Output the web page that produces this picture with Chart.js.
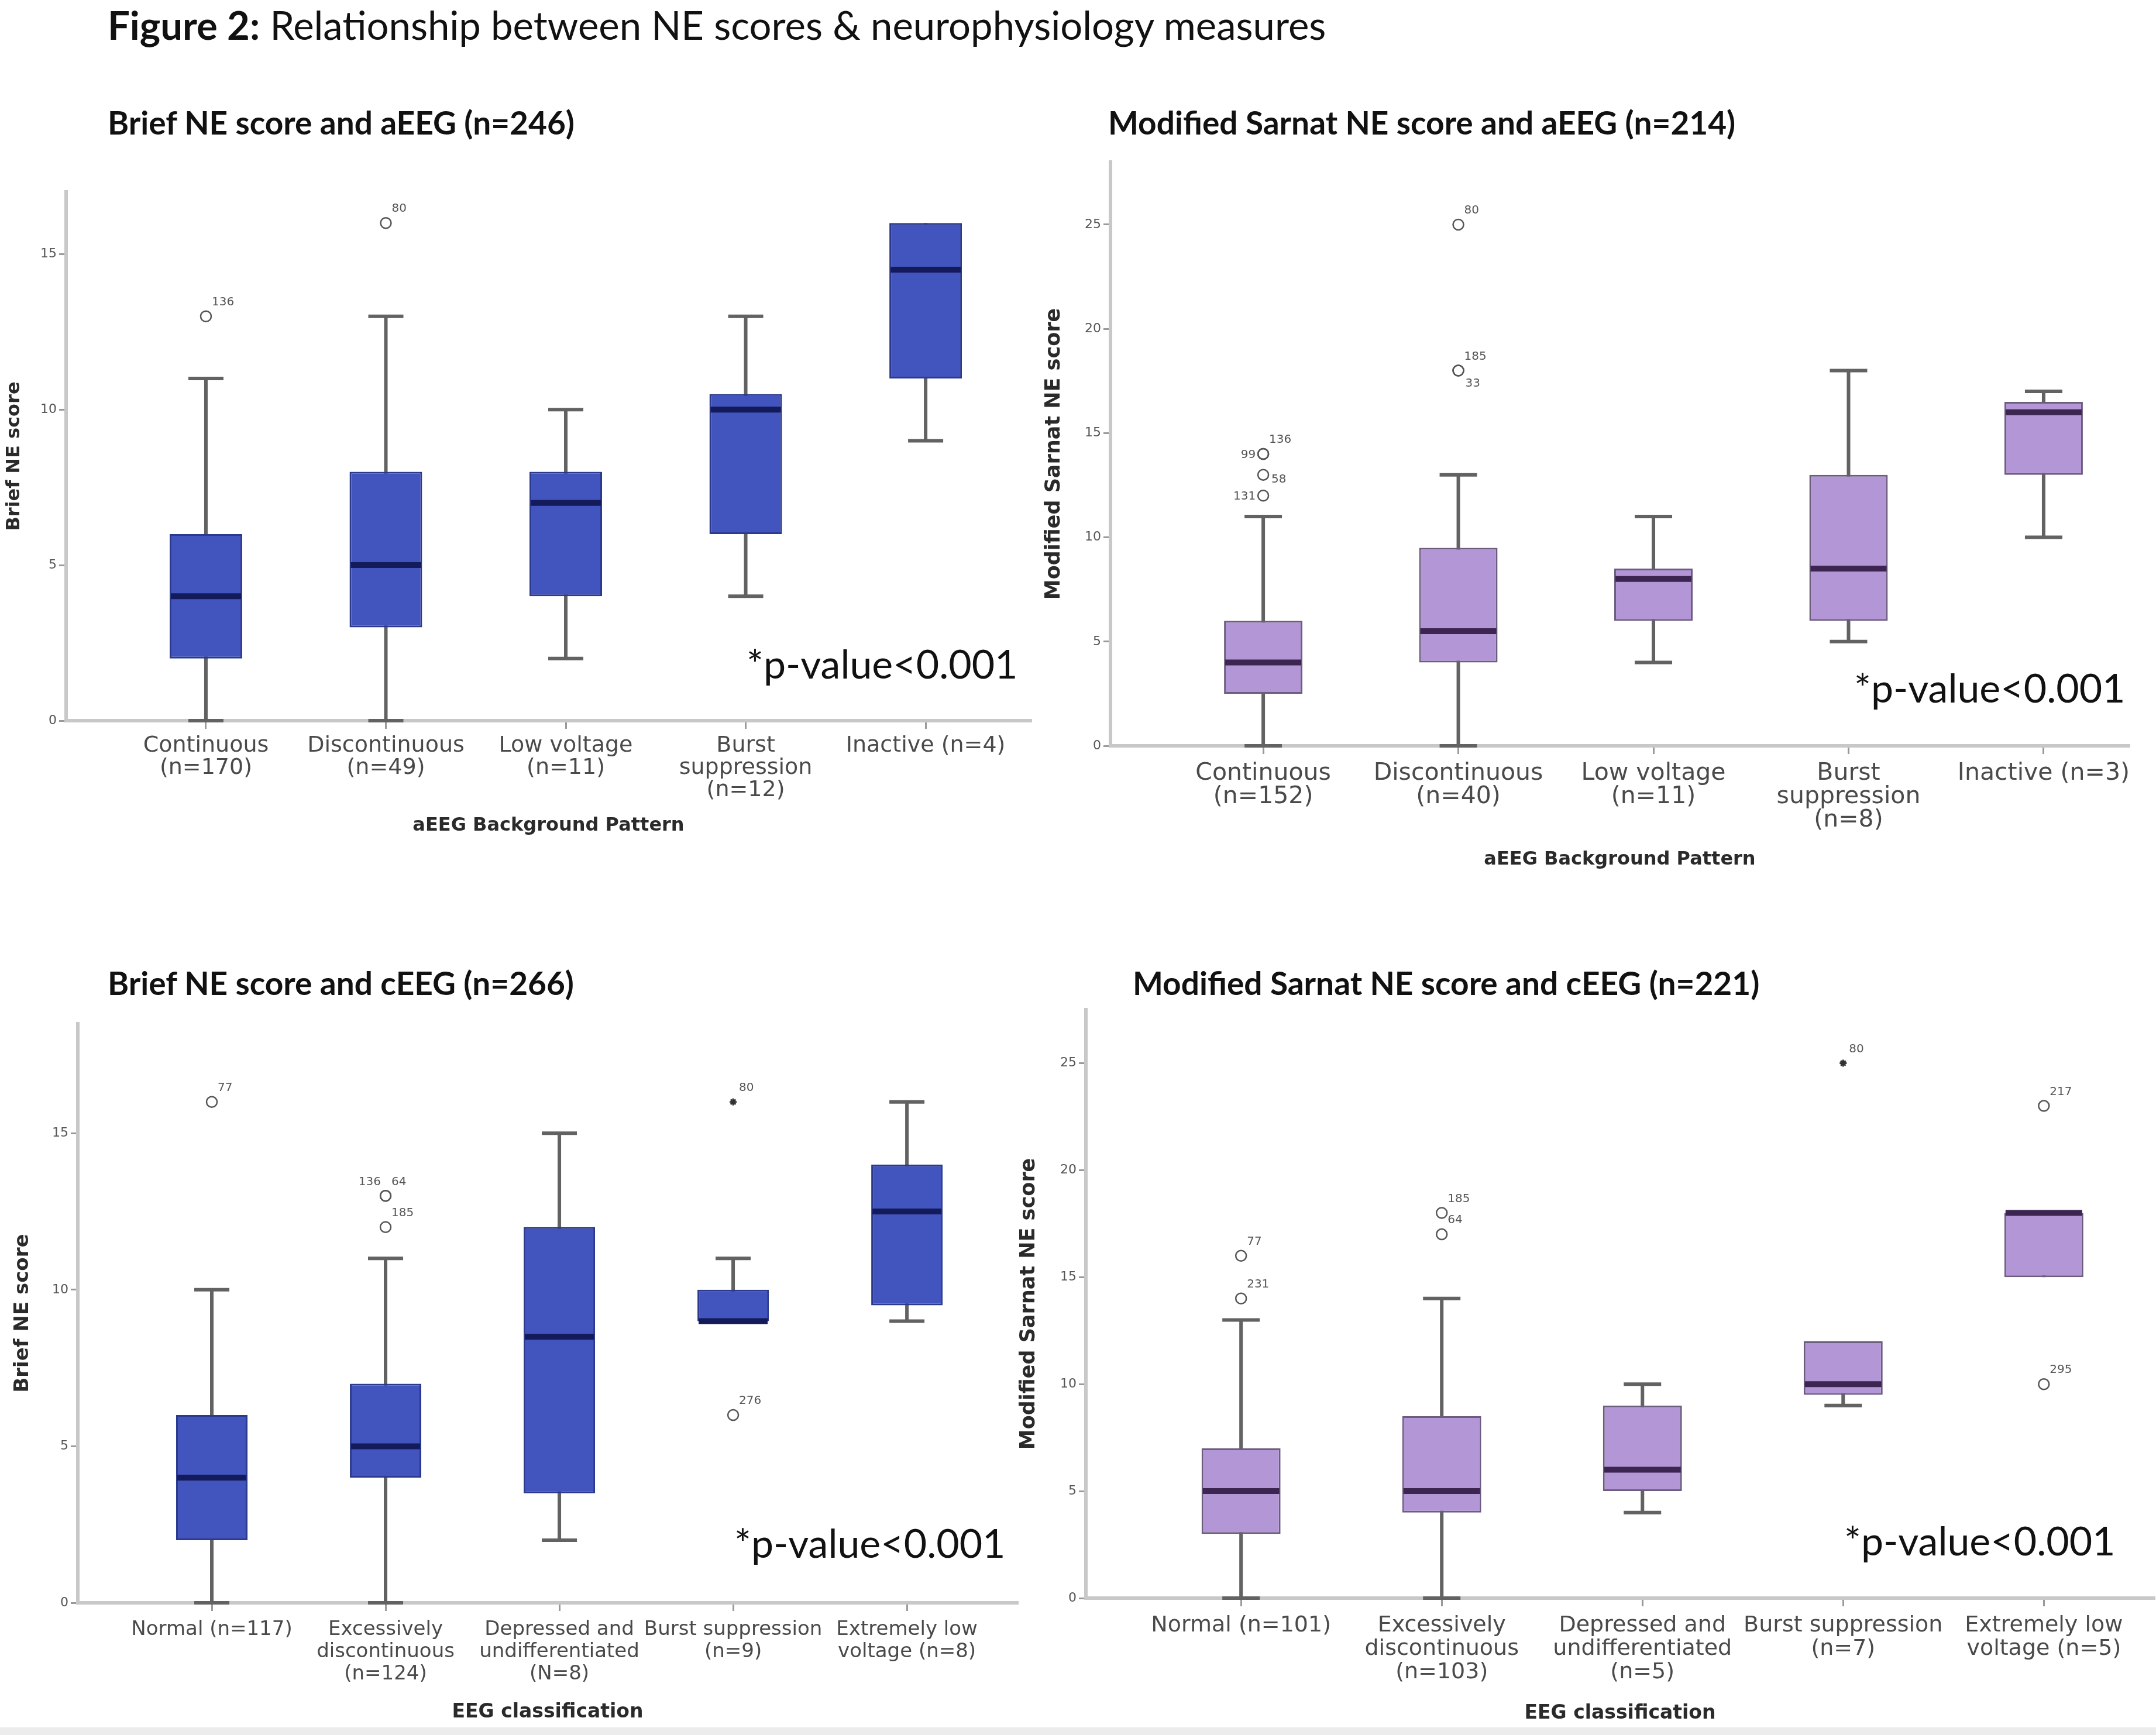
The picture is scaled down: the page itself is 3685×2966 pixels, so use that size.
<!DOCTYPE html>
<html><head><meta charset="utf-8">
<script src="https://cdn.jsdelivr.net/npm/chart.js@4.4.1/dist/chart.umd.min.js"></script>
<style>
html,body{margin:0;padding:0;background:#fff;}
body{width:3685px;height:2966px;position:relative;overflow:hidden;}
canvas{position:absolute;}
.t{position:absolute;white-space:nowrap;color:#111;font-family:Lato,'Open Sans',sans-serif;line-height:1.2;}
.sub{font-weight:bold;font-size:55px;}
.pv{font-size:68px;}
#strip{position:absolute;left:0;top:2953px;width:3685px;height:13px;background:#ececec;}
</style></head><body>
<div id="strip"></div>
<div class="t" style="left:184px;top:2px;font-size:67px;"><b>Figure 2:</b> Relationship between NE scores &amp; neurophysiology measures</div>
<div class="t sub" style="left:184px;top:176px;">Brief NE score and aEEG (n=246)</div>
<div class="t sub" style="left:1894px;top:176px;">Modified Sarnat NE score and aEEG (n=214)</div>
<div class="t sub" style="left:184px;top:1647px;">Brief NE score and cEEG (n=266)</div>
<div class="t sub" style="left:1936px;top:1647px;">Modified Sarnat NE score and cEEG (n=221)</div>
<div class="t pv" style="left:1276px;top:1093px;">*p-value&lt;0.001</div>
<div class="t pv" style="left:3169px;top:1134px;">*p-value&lt;0.001</div>
<div class="t pv" style="left:1255px;top:2596px;">*p-value&lt;0.001</div>
<div class="t pv" style="left:3152px;top:2592px;">*p-value&lt;0.001</div>
<script>
// ---------- DATA ----------
// Panel A: Brief NE score vs aEEG background pattern
const catsA = [["Continuous","(n=170)"],["Discontinuous","(n=49)"],["Low voltage","(n=11)"],["Burst","suppression","(n=12)"],["Inactive (n=4)"]];
const minA = [0, 0, 2, 4, 9];
const q1A  = [2, 3, 4, 6, 11];
const medA = [4, 5, 7, 10, 14.5];
const q3A  = [6, 8, 8, 10.5, 16];
const maxA = [11, 13, 10, 13, 16];
const outA = [[1, 13, "136"], [2, 16, "80"]];
const extA = [];
const yTicksA = [0, 5, 10, 15];

// Panel B: Modified Sarnat NE score vs aEEG background pattern
const catsB = [["Continuous","(n=152)"],["Discontinuous","(n=40)"],["Low voltage","(n=11)"],["Burst","suppression","(n=8)"],["Inactive (n=3)"]];
const minB = [0, 0, 4, 5, 10];
const q1B  = [2.5, 4, 6, 6, 13];
const medB = [4, 5.5, 8, 8.5, 16];
const q3B  = [6, 9.5, 8.5, 13, 16.5];
const maxB = [11, 13, 11, 18, 17];
const outB = [[1, 14, "136"], [1, 14, "99"], [1, 13, "58"], [1, 12, "131"], [2, 25, "80"], [2, 18, "185"], [2, 18, "33"]];
const extB = [];
const yTicksB = [0, 5, 10, 15, 20, 25];

// Panel C: Brief NE score vs cEEG classification
const catsC = [["Normal (n=117)"],["Excessively","discontinuous","(n=124)"],["Depressed and","undifferentiated","(N=8)"],["Burst suppression","(n=9)"],["Extremely low","voltage (n=8)"]];
const minC = [0, 0, 2, 9, 9];
const q1C  = [2, 4, 3.5, 9, 9.5];
const medC = [4, 5, 8.5, 9, 12.5];
const q3C  = [6, 7, 12, 10, 14];
const maxC = [10, 11, 15, 11, 16];
const outC = [[1, 16, "77"], [2, 13, "136"], [2, 13, "64"], [2, 12, "185"], [4, 6, "276"]];
const extC = [[4, 16, "80"]];
const yTicksC = [0, 5, 10, 15];

// Panel D: Modified Sarnat NE score vs cEEG classification
const catsD = [["Normal (n=101)"],["Excessively","discontinuous","(n=103)"],["Depressed and","undifferentiated","(n=5)"],["Burst suppression","(n=7)"],["Extremely low","voltage (n=5)"]];
const minD = [0, 0, 4, 9, 15];
const q1D  = [3, 4, 5, 9.5, 15];
const medD = [5, 5, 6, 10, 18];
const q3D  = [7, 8.5, 9, 12, 18];
const maxD = [13, 14, 10, 12, 18];
const outD = [[1, 16, "77"], [1, 14, "231"], [2, 18, "185"], [2, 17, "64"], [5, 23, "217"], [5, 10, "295"]];
const extD = [[4, 25, "80"]];
const yTicksD = [0, 5, 10, 15, 20, 25];

// ---------- STYLE ----------
const BLUE = {fill:'#4254BD', edge:'#2B3A8C', med:'#141B5B'};
const PURPLE = {fill:'#B396D6', edge:'#6C5C7E', med:'#3D2552'};
const WHISKER = '#626262';

const outlierLabels = {
  id: 'outlierLabels',
  afterDatasetsDraw(chart, args, opts) {
    const {ctx} = chart; const xs = chart.scales.x, ys = chart.scales.y;
    ctx.save();
    ctx.font = '20px "DejaVu Sans"';
    ctx.fillStyle = '#555';
    ctx.textBaseline = 'middle';
    (opts.items || []).forEach(o => {
      const px = xs.getPixelForValue(o[0]), py = ys.getPixelForValue(o[1]);
      const pl = (opts.place || {})[o[2]] || 'ur';
      let dx = 10, dy = -24, al = 'left';
      if (pl === 'r') { dx = 14; dy = 8; }
      else if (pl === 'dr') { dx = 12; dy = 22; }
      else if (pl === 'l') { dx = -13; dy = 2; al = 'right'; }
      else if (pl === 'ul') { dx = -8; dy = -24; al = 'right'; }
      ctx.textAlign = al;
      ctx.fillText(o[2], px + dx, py + dy);
    });
    ctx.restore();
  }
};

function makeChart(p) {
  const cv = document.createElement('canvas');
  cv.width = p.w; cv.height = p.h;
  cv.style.left = p.left + 'px'; cv.style.top = p.top + 'px';
  cv.style.width = p.w + 'px'; cv.style.height = p.h + 'px';
  document.body.appendChild(cv);
  const idx = p.cats.map((c, i) => i + 1);
  const caps = [];
  idx.forEach((x, i) => {
    if (p.min[i] < p.q1[i]) caps.push({x, y: p.min[i]});
    if (p.max[i] > p.q3[i]) caps.push({x, y: p.max[i]});
  });
  return new Chart(cv, {
    type: 'bar',
    data: { datasets: [
      {type:'bar', label:'whisker', data: idx.map((x, i) => ({x, y:[p.min[i], p.max[i]]})),
       backgroundColor: WHISKER, borderWidth:0, grouped:false, maxBarThickness:p.whiskerW, order:5, clip:false},
      {type:'bar', label:'IQR', data: idx.map((x, i) => ({x, y:[p.q1[i], p.q3[i]]})),
       backgroundColor: p.col.fill, borderColor: p.col.edge, borderWidth:3, borderSkipped:false,
       grouped:false, maxBarThickness:p.boxW, order:4, clip:false},
      {type:'scatter', label:'caps', data: caps, pointStyle:'line', pointRadius:p.capW/2,
       pointBorderWidth:p.whiskerW, pointBorderColor:WHISKER, order:3, clip:false},
      {type:'scatter', label:'median', data: idx.map((x, i) => ({x, y:p.med[i]})), pointStyle:'line',
       pointRadius:p.boxW/2 - 2, pointBorderWidth:10, pointBorderColor:p.col.med, order:2, clip:false},
      {type:'scatter', label:'outliers', data: p.out.map(o => ({x:o[0], y:o[1]})), pointStyle:'circle',
       pointRadius:9, pointBorderWidth:2.5, pointBorderColor:'#555', pointBackgroundColor:'rgba(255,255,255,0)', order:1, clip:false},
      {type:'scatter', label:'extremes', data: p.ext.map(o => ({x:o[0], y:o[1]})), pointStyle:'star',
       pointRadius:6, pointBorderWidth:3, pointBorderColor:'#333', order:0, clip:false}
    ]},
    plugins: [outlierLabels],
    options: {
      responsive:false, animation:false, devicePixelRatio:1, events:[],
      layout: {autoPadding:false, padding: {top:p.padTop, right:p.padRight, left:0, bottom:0}},
      plugins: {legend:{display:false}, tooltip:{enabled:false},
        outlierLabels: {items: p.out.concat(p.ext), place: p.place}},
      scales: {
        x: {type:'linear', min:p.xmin, max:p.xmax, offset:false,
          afterBuildTicks: s => { s.ticks = idx.map(v => ({value:v})); },
          afterFit: s => { s.height = p.xH; },
          ticks: {autoSkip:false, maxRotation:0, minRotation:0, padding:p.tickPad, color:'#4a4a4a',
            font:{family:'DejaVu Sans', size:p.tickSize, lineHeight:p.tickLH},
            callback: v => p.cats[Math.round(v) - 1]},
          grid: {display:true, drawOnChartArea:false, drawTicks:true, tickLength:14, color:'#9a9a9a', lineWidth:3, offset:false},
          border: {display:true, color:'#c8c8c8', width:6},
          title: {display:true, text:p.xTitle, color:'#2a2a2a',
            font:{family:'DejaVu Sans', weight:'bold', size:p.xTitleSize}, padding:{top:4, bottom:0}}
        },
        y: {type:'linear', min:0, max:p.ymax,
          afterBuildTicks: s => { s.ticks = p.yTicks.map(v => ({value:v})); },
          afterFit: s => { s.width = p.yW; },
          ticks: {padding:4, color:'#555', font:{family:'DejaVu Sans', size:22}},
          grid: {display:true, drawOnChartArea:false, drawTicks:true, tickLength:12, color:'#9a9a9a', lineWidth:3},
          border: {display:true, color:'#c8c8c8', width:6},
          title: {display:true, text:p.yTitle, color:'#2a2a2a',
            font:{family:'DejaVu Sans', weight:'bold', size:p.yTitleSize}, padding:{top:p.yTitlePad, bottom:0}}
        }
      }
    }
  });
}

makeChart({left:0, top:308, w:1782, h:1123, padTop:20, padRight:20, yW:113, xH:199,
  xmin:0.223, xmax:5.585, ymax:17, yTicks:yTicksA, cats:catsA,
  min:minA, q1:q1A, med:medA, q3:q3A, max:maxA, out:outA, ext:extA, place:{},
  col:BLUE, boxW:124, capW:60, whiskerW:6, tickSize:38, tickLH:38/38, tickPad:10,
  xTitle:'aEEG Background Pattern', xTitleSize:32, yTitle:'Brief NE score', yTitleSize:32, yTitlePad:5});

makeChart({left:1780, top:257, w:1879, h:1232, padTop:20, padRight:20, yW:118, xH:214,
  xmin:0.217, xmax:5.438, ymax:28, yTicks:yTicksB, cats:catsB,
  min:minB, q1:q1B, med:medB, q3:q3B, max:maxB, out:outB, ext:extB, place:{"99":"l","58":"r","131":"l","33":"dr"},
  col:PURPLE, boxW:134, capW:64, whiskerW:6, tickSize:41, tickLH:40/41, tickPad:13,
  xTitle:'aEEG Background Pattern', xTitleSize:32, yTitle:'Modified Sarnat NE score', yTitleSize:35, yTitlePad:1});

makeChart({left:0, top:1730, w:1759, h:1217, padTop:20, padRight:20, yW:133, xH:207,
  xmin:0.229, xmax:5.636, ymax:18.5, yTicks:yTicksC, cats:catsC,
  min:minC, q1:q1C, med:medC, q3:q3C, max:maxC, out:outC, ext:extC, place:{"136":"ul"},
  col:BLUE, boxW:122, capW:60, whiskerW:6, tickSize:34, tickLH:38/34, tickPad:13,
  xTitle:'EEG classification', xTitleSize:33, yTitle:'Brief NE score', yTitleSize:34, yTitlePad:19});

makeChart({left:1736, top:1706, w:1949, h:1243, padTop:20, padRight:3, yW:120, xH:217,
  xmin:0.227, xmax:5.55, ymax:27.5, yTicks:yTicksD, cats:catsD,
  min:minD, q1:q1D, med:medD, q3:q3D, max:maxD, out:outD, ext:extD, place:{},
  col:PURPLE, boxW:135, capW:64, whiskerW:6, tickSize:38, tickLH:40/38, tickPad:13,
  xTitle:'EEG classification', xTitleSize:33, yTitle:'Modified Sarnat NE score', yTitleSize:35, yTitlePad:2});
</script>
</body></html>
